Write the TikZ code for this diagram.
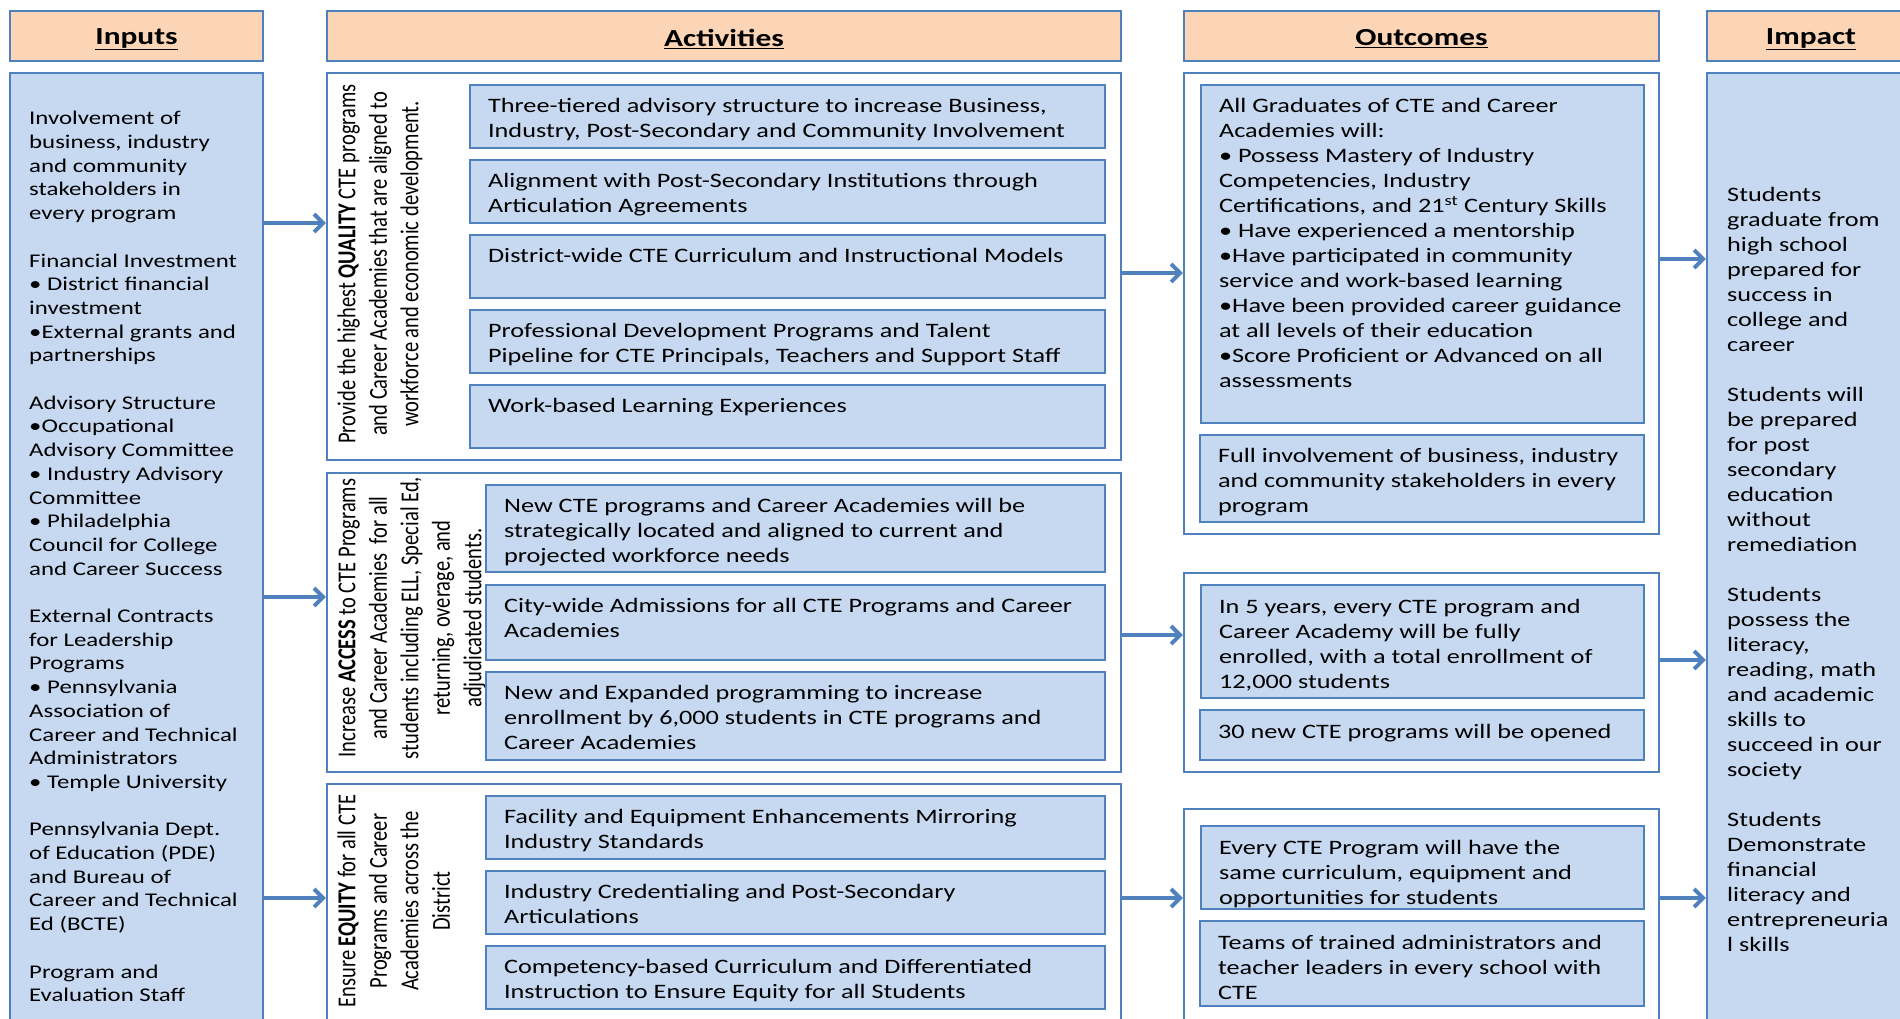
\documentclass[tikz,border=0pt]{standalone}
\usepackage{fontspec}
\setmainfont{Carlito}[FakeStretch=1.28]
\newfontfamily\rotfont{Carlito}
\usetikzlibrary{arrows.meta,fit,calc}
\definecolor{bblue}{HTML}{4F81BD}
\definecolor{lblue}{HTML}{C6D9F1}
\definecolor{peach}{HTML}{FBD5B5}
\newcommand{\bodyf}{\fontsize{20.5}{25}\selectfont}
\newcommand{\inpf}{\fontsize{19.4}{23.7}\selectfont}
\newcommand{\hdrf}{\fontsize{24.5}{29}\selectfont\bfseries}
\newcommand{\rottext}[1]{\scalebox{1}[1.26]{\rotfont\fontsize{20.5}{25}\selectfont\begin{tabular}{@{}c@{}}#1\end{tabular}}}
\tikzset{
  hdr/.style={draw=bblue, fill=peach, line width=2.2pt, inner sep=0pt},
  ibox/.style={draw=bblue, fill=lblue, line width=2.2pt, inner sep=0pt},
  obox/.style={draw=bblue, fill=white, line width=2.2pt, inner sep=0pt},
  htxt/.style={inner sep=0pt, font=\hdrf},
  txt/.style={anchor=north west, inner sep=0pt, align=left, font=\bodyf},
  itxt/.style={anchor=north west, inner sep=0pt, align=left, font=\inpf},
  rtxt/.style={rotate=90, anchor=north, inner sep=0pt},
  arr/.style={draw=bblue, line width=4pt, -{Straight Barb[length=9pt,width=18pt]}},
}
\begin{document}
\begin{tikzpicture}[x=1pt,y=-1pt]
\useasboundingbox (0,0) rectangle (1900,1018);
\clip (0,0) rectangle (1900,1018);
\fill[white] (0,0) rectangle (1900,1018);

% headers
\node[hdr, fit={(10,11) (263,61)}] (hin) {};
\node[htxt] (hint) at ($(hin.center)+(0,3)$) {\underline{Inputs}};
\node[hdr, fit={(327,11) (1121,61)}] (hac) {};
\node[htxt] (hact) at ($(hac.center)+(0,3)$) {\underline{Activities}};
\node[hdr, fit={(1184,11) (1659,61)}] (hou) {};
\node[htxt] (hout) at ($(hou.center)+(0,3)$) {\underline{Outcomes}};
\node[hdr, fit={(1707,11) (1915,61)}] (him) {};
\node[htxt] (himt) at ($(him.center)+(0,3)$) {\underline{Impact}};

% inputs
\node[ibox, fit={(10,73) (263,1030)}] (inp) {};
\node[itxt] (inpt) at (29,108) {\strut Involvement of\\business, industry\\and community\\stakeholders in\\every program\\[23.7pt]
Financial Investment\\• District financial\\investment\\•External grants and\\partnerships\\[23.7pt]
Advisory Structure\\•Occupational\\Advisory Committee\\• Industry Advisory\\Committee\\• Philadelphia\\Council for College\\and Career Success\\[23.7pt]
External Contracts\\for Leadership\\Programs\\• Pennsylvania\\Association of\\Career and Technical\\Administrators\\• Temple University\\[23.7pt]
Pennsylvania Dept.\\of Education (PDE)\\and Bureau of\\Career and Technical\\Ed (BCTE)\\[23.7pt]
Program and\\Evaluation Staff};

% activities group 1
\node[obox, fit={(327,73) (1121,460)}] (g1) {};
\node[rtxt] (g1t) at (333,264) {\rottext{Provide the highest \textbf{QUALITY} CTE programs\\and Career Academies that are aligned to\\workforce and economic development.}};
\node[ibox, fit={(470,85) (1105,148)}] (a1) {};
\node[txt] (a1t) at ($(a1.north west)+(19,11)$) {\strut Three-tiered advisory structure to increase Business,\\Industry, Post-Secondary and Community Involvement};
\node[ibox, fit={(470,160) (1105,223)}] (a2) {};
\node[txt] (a2t) at ($(a2.north west)+(19,11)$) {\strut Alignment with Post-Secondary Institutions through\\Articulation Agreements};
\node[ibox, fit={(470,235) (1105,298)}] (a3) {};
\node[txt] (a3t) at ($(a3.north west)+(19,11)$) {\strut District-wide CTE Curriculum and Instructional Models};
\node[ibox, fit={(470,310) (1105,373)}] (a4) {};
\node[txt] (a4t) at ($(a4.north west)+(19,11)$) {\strut Professional Development Programs and Talent\\Pipeline for CTE Principals, Teachers and Support Staff};
\node[ibox, fit={(470,385) (1105,448)}] (a5) {};
\node[txt] (a5t) at ($(a5.north west)+(19,11)$) {\strut Work-based Learning Experiences};

% activities group 2
\node[obox, fit={(327,473) (1121,772)}] (g2) {};
\node[rtxt] (g2t) at (333,618) {\rottext{Increase \textbf{ACCESS} to CTE Programs\\and Career Academies\ \ for all\\students including ELL, Special Ed,\\returning, overage, and\\adjudicated students.}};
\node[ibox, fit={(486,485) (1105,572)}] (b1) {};
\node[txt] (b1t) at ($(b1.north west)+(19,11)$) {\strut New CTE programs and Career Academies will be\\strategically located and aligned to current and\\projected workforce needs};
\node[ibox, fit={(486,585) (1105,660)}] (b2) {};
\node[txt] (b2t) at ($(b2.north west)+(19,11)$) {\strut City-wide Admissions for all CTE Programs and Career\\Academies};
\node[ibox, fit={(486,672) (1105,760)}] (b3) {};
\node[txt] (b3t) at ($(b3.north west)+(19,11)$) {\strut New and Expanded programming to increase\\enrollment by 6,000 students in CTE programs and\\Career Academies};

% activities group 3
\node[obox, fit={(327,784) (1121,1025)}] (g3) {};
\node[rtxt] (g3t) at (333,901) {\rottext{Ensure \textbf{EQUITY} for all CTE\\Programs and Career\\Academies across the\\District}};
\node[ibox, fit={(486,796) (1105,859)}] (c1) {};
\node[txt] (c1t) at ($(c1.north west)+(19,11)$) {\strut Facility and Equipment Enhancements Mirroring\\Industry Standards};
\node[ibox, fit={(486,871) (1105,934)}] (c2) {};
\node[txt] (c2t) at ($(c2.north west)+(19,11)$) {\strut Industry Credentialing and Post-Secondary\\Articulations};
\node[ibox, fit={(486,946) (1105,1009)}] (c3) {};
\node[txt] (c3t) at ($(c3.north west)+(19,11)$) {\strut Competency-based Curriculum and Differentiated\\Instruction to Ensure Equity for all Students};

% outcomes
\node[obox, fit={(1184,73) (1659,534)}] (o1) {};
\node[ibox, fit={(1201,85) (1644,423)}] (o1a) {};
\node[txt] (o1at) at ($(o1a.north west)+(19,11)$) {\strut All Graduates of CTE and Career\\Academies will:\\• Possess Mastery of Industry\\Competencies, Industry\\Certifications, and 21\textsuperscript{st} Century Skills\\• Have experienced a mentorship\\•Have participated in community\\service and work-based learning\\•Have been provided career guidance\\at all levels of their education\\•Score Proficient or Advanced on all\\assessments};
\node[ibox, fit={(1200,435) (1644,522)}] (o1b) {};
\node[txt] (o1bt) at ($(o1b.north west)+(19,11)$) {\strut Full involvement of business, industry\\and community stakeholders in every\\program};

\node[obox, fit={(1184,573) (1659,772)}] (o2) {};
\node[ibox, fit={(1201,585) (1644,698)}] (o2a) {};
\node[txt] (o2at) at ($(o2a.north west)+(19,12)$) {\strut In 5 years, every CTE program and\\Career Academy will be fully\\enrolled, with a total enrollment of\\12,000 students};
\node[ibox, fit={(1200,710) (1644,760)}] (o2b) {};
\node[txt] (o2bt) at ($(o2b.north west)+(19,12)$) {\strut 30 new CTE programs will be opened};

\node[obox, fit={(1184,809) (1659,1025)}] (o3) {};
\node[ibox, fit={(1201,826) (1644,909)}] (o3a) {};
\node[txt] (o3at) at ($(o3a.north west)+(19,12)$) {\strut Every CTE Program will have the\\same curriculum, equipment and\\opportunities for students};
\node[ibox, fit={(1200,921) (1644,1006)}] (o3b) {};
\node[txt] (o3bt) at ($(o3b.north west)+(19,12)$) {\strut Teams of trained administrators and\\teacher leaders in every school with\\CTE};

% impact
\node[ibox, fit={(1707,73) (1915,1030)}] (imp) {};
\node[txt] (impt) at (1727,184) {\strut Students\\graduate from\\high school\\prepared for\\success in\\college and\\career\\[25pt]
Students will\\be prepared\\for post\\secondary\\education\\without\\remediation\\[25pt]
Students\\possess the\\literacy,\\reading, math\\and academic\\skills to\\succeed in our\\society\\[25pt]
Students\\Demonstrate\\financial\\literacy and\\entrepreneuria\\l skills};

% connectors
\coordinate (ya) at (0,223);
\coordinate (yb) at (0,597);
\coordinate (yc) at (0,898);
\coordinate (yd) at (0,273);
\coordinate (ye) at (0,635);
\coordinate (yf) at (0,259);
\coordinate (yg) at (0,660);
\draw[arr] (inp.east |- ya) -- (g1.west |- ya);
\draw[arr] (inp.east |- yb) -- (g2.west |- yb);
\draw[arr] (inp.east |- yc) -- (g3.west |- yc);
\draw[arr] (g1.east |- yd) -- (o1.west |- yd);
\draw[arr] (g2.east |- ye) -- (o2.west |- ye);
\draw[arr] (g3.east |- yc) -- (o3.west |- yc);
\draw[arr] (o1.east |- yf) -- (imp.west |- yf);
\draw[arr] (o2.east |- yg) -- (imp.west |- yg);
\draw[arr] (o3.east |- yc) -- (imp.west |- yc);
\end{tikzpicture}
\end{document}
